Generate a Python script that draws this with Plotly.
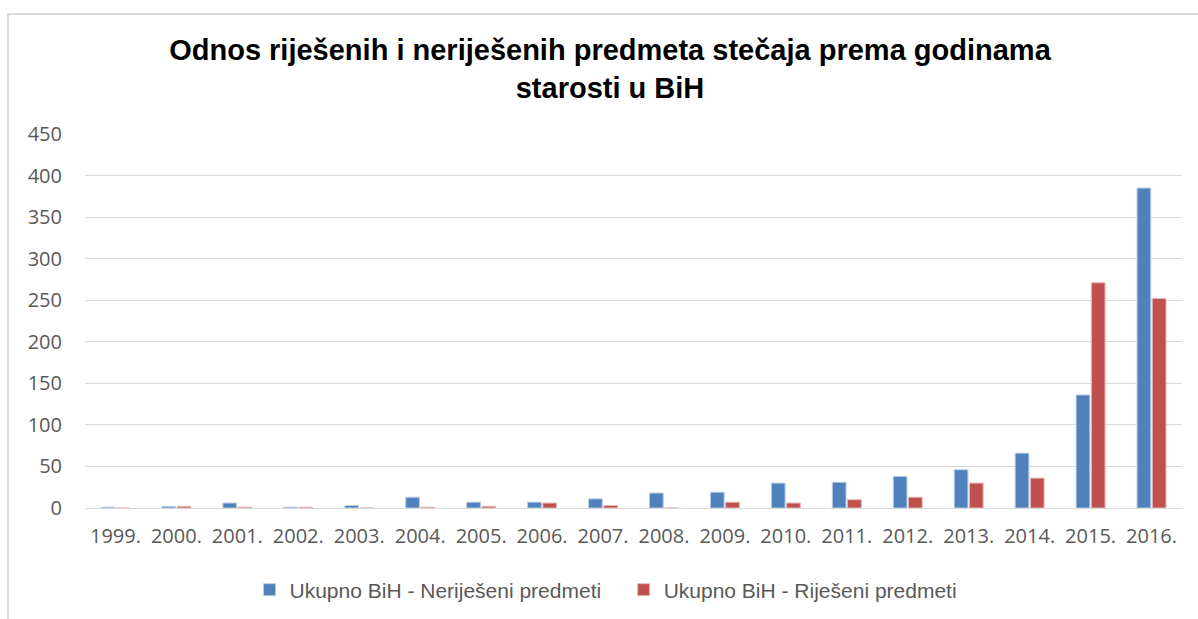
import plotly.graph_objects as go

years = ["1999.", "2000.", "2001.", "2002.", "2003.", "2004.", "2005.", "2006.", "2007.",
         "2008.", "2009.", "2010.", "2011.", "2012.", "2013.", "2014.", "2015.", "2016."]
nerijeseni = [1, 2, 6, 1, 3, 13, 7, 7, 11, 18, 19, 30, 31, 38, 46, 66, 136, 385]
rijeseni = [0, 2, 1, 1, 0, 1, 2, 6, 3, 0, 7, 6, 10, 13, 30, 36, 271, 252]

name_a = "Ukupno BiH - Nerije\u0161eni predmeti"
name_b = "Ukupno BiH - Rije\u0161eni predmeti"
title = "Odnos rije\u0161enih i nerije\u0161enih predmeta ste\u010daja prema godinama<br>starosti u BiH"

W, H = 1198, 619
L, R, T, B = 85, 16, 134, 111
PW, PH = W - L - R, H - T - B

fig = go.Figure()
fig.add_trace(go.Bar(x=years, y=nerijeseni, name=name_a + "\u00a0\u00a0\u00a0",
                     marker=dict(color="#4F81BD", line=dict(color="#B9CDE5", width=1))))
fig.add_trace(go.Bar(x=years, y=rijeseni, name=name_b,
                     marker=dict(color="#C0504D", line=dict(color="#E6B9B8", width=1))))

tick_font = dict(family="Open Sans, Calibri, sans-serif", size=20, color="#595959")
leg_font = dict(family="Liberation Sans, Arial, sans-serif", size=21, color="#595959")
fig.update_layout(
    width=W, height=H,
    paper_bgcolor="white", plot_bgcolor="white",
    margin=dict(l=L, r=R, t=T, b=B, autoexpand=False),
    barmode="group", bargap=0.5, bargroupgap=0.1,
    title=dict(text="<b>" + title + "</b>", x=610 / W, xanchor="center",
               y=1 - 60 / H, yanchor="top",
               font=dict(family="Liberation Sans, Arial, sans-serif", size=29, color="black")),
    legend=dict(orientation="h", x=(606 - L) / PW, xanchor="center",
                y=-(590 - (H - B)) / PH, yanchor="middle",
                font=leg_font, itemwidth=30, tracegroupgap=0),
    showlegend=True,
)
fig.update_yaxes(range=[0, 450], dtick=50, showgrid=True, gridcolor="#D9D9D9", gridwidth=1,
                 zeroline=True, zerolinecolor="#D9D9D9", zerolinewidth=1,
                 showline=False, ticks="", ticklabelstandoff=22, automargin=False,
                 tickfont=tick_font)
fig.update_xaxes(showline=True, linecolor="#D9D9D9", ticks="", automargin=False,
                 ticklabelstandoff=10, tickfont=tick_font)

fig.add_shape(type="rect", xref="paper", yref="paper",
              x0=-(L - 8) / PW, x1=1 + (R + 20) / PW, y0=-(B + 20) / PH, y1=1 + (T - 14) / PH,
              line=dict(color="#D9D9D9", width=2), fillcolor="rgba(0,0,0,0)", layer="below")

fig.write_html("out.html", config={"displayModeBar": False},
               post_script="document.body.style.margin='0';document.body.style.overflow='hidden';")
